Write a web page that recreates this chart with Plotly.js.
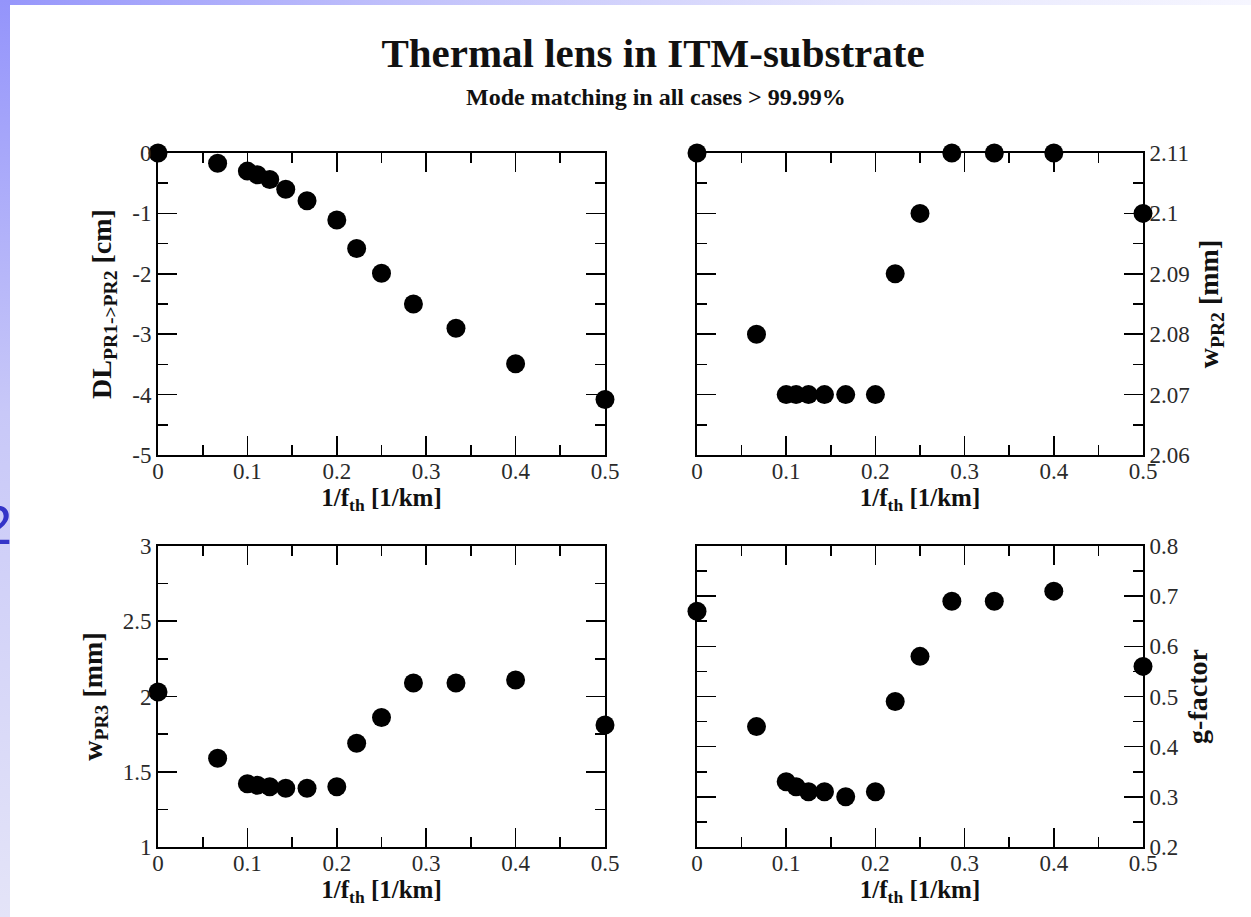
<!DOCTYPE html>
<html>
<head>
<meta charset="utf-8">
<script src="https://cdn.plot.ly/plotly-3.0.1.min.js"></script>
<style>
  html, body { margin:0; padding:0; background:#ffffff; overflow:hidden; }
  #topband { position:absolute; left:0; top:0; width:1251px; height:5px;
    background: linear-gradient(to right, #9696fb 0%, #c4c4fb 35%, #e6e6fd 70%, #f6f6ff 100%); }
  #leftband { position:absolute; left:0; top:0; width:10px; height:917px;
    background: linear-gradient(to bottom, #9494fb 0%, #c8c8f8 45%, #e4e4f8 100%); }
  #slidenum { position:absolute; left:-19px; top:497px; font-family:"Liberation Sans", sans-serif;
    font-size:56px; line-height:56px; color:#3434c8; }
  #chart { position:absolute; left:0; top:0; width:1251px; height:917px; }
</style>
</head>
<body>
<div id="topband"></div>
<div id="leftband"></div>
<div id="slidenum">2</div>
<div id="chart"></div>
<script>
// 1/f_th [1/km]
const invF = [0, 0.0667, 0.1, 0.1111, 0.125, 0.1429, 0.1667, 0.2, 0.2222, 0.25, 0.2857, 0.3333, 0.4, 0.5];
// DL PR1->PR2 [cm]
const dlPR1PR2 = [0, -0.17, -0.30, -0.36, -0.44, -0.60, -0.79, -1.11, -1.58, -1.99, -2.50, -2.90, -3.49, -4.08];
// w PR2 [mm]
const wPR2 = [2.11, 2.08, 2.07, 2.07, 2.07, 2.07, 2.07, 2.07, 2.09, 2.10, 2.11, 2.11, 2.11, 2.10];
// w PR3 [mm]
const wPR3 = [2.03, 1.59, 1.42, 1.41, 1.40, 1.39, 1.39, 1.40, 1.69, 1.86, 2.09, 2.09, 2.11, 1.81];
// g-factor
const gFactor = [0.67, 0.44, 0.33, 0.32, 0.31, 0.31, 0.30, 0.31, 0.49, 0.58, 0.69, 0.69, 0.71, 0.56];

const dlTickVals = [-5, -4, -3, -2, -1, 0];
const dlTickText = ['-5', '-4', '-3', '-2', '-1', '0'];

const W = 1251, H = 917;
const serif = 'Liberation Serif, Times New Roman, serif';
const tickFont = {family: serif, size: 23, color: '#2a2a2a'};
const xTitleFont = {family: serif, size: 25, color: '#111', weight: 'bold'};
const yTitleFont = {family: serif, size: 28, color: '#111', weight: 'bold'};

function xd(a, b) { return [a / W, b / W]; }
function yd(top, bottom) { return [1 - bottom / H, 1 - top / H]; }

function xAxis(domain, anchor) {
  return {
    domain: domain, anchor: anchor, range: [0, 0.5], dtick: 0.1, tick0: 0,
    ticks: 'inside', ticklen: 19, tickwidth: 1.6, tickcolor: '#000',
    minor: {dtick: 0.05, tick0: 0, ticks: 'inside', ticklen: 10, tickwidth: 1.6, tickcolor: '#000', showgrid: false},
    showline: true, linewidth: 2, linecolor: '#000', mirror: 'ticks',
    showgrid: false, zeroline: false, tickfont: tickFont, ticklabelstandoff: -6,
    title: {text: '1/f<sub>th</sub> [1/km]', font: xTitleFont, standoff: 0},
    automargin: false
  };
}
function yAxis(domain, anchor, range, dtick, minorDtick, side, title, standoff) {
  return {
    domain: domain, anchor: anchor, range: range, dtick: dtick, tick0: range[0], side: side,
    ticks: 'inside', ticklen: 19, tickwidth: 1.6, tickcolor: '#000',
    minor: {dtick: minorDtick, tick0: range[0], ticks: 'inside', ticklen: 10, tickwidth: 1.6, tickcolor: '#000', showgrid: false},
    showline: true, linewidth: 2, linecolor: '#000', mirror: 'ticks',
    showgrid: false, zeroline: false, tickfont: tickFont,
    title: {text: title, font: yTitleFont, standoff: standoff},
    automargin: false
  };
}

const marker = {symbol: 'circle', size: 19, color: '#000', line: {width: 0}};
function tr(y, xa, ya) {
  return {x: invF, y: y, xaxis: xa, yaxis: ya, type: 'scatter', mode: 'markers',
          marker: marker, cliponaxis: false, showlegend: false, hoverinfo: 'x+y'};
}

const data = [
  tr(dlPR1PR2, 'x', 'y'),
  tr(wPR2, 'x2', 'y2'),
  tr(wPR3, 'x3', 'y3'),
  tr(gFactor, 'x4', 'y4')
];

const yTop = yd(153, 455), yBot = yd(546, 847);
const xL = xd(158, 605), xR = xd(697, 1143);

const yax1 = yAxis(yTop, 'x', [-5, 0], 1, 0.5, 'left', 'DL<sub>PR1-&gt;PR2</sub> [cm]', 12);
yax1.tickmode = 'array'; yax1.tickvals = dlTickVals; yax1.ticktext = dlTickText;
yax1.minor = {tickvals: [-4.5, -3.5, -2.5, -1.5, -0.5], ticks: 'inside', ticklen: 10, tickwidth: 1.6, tickcolor: '#000', showgrid: false};

const layout = {
  width: W, height: H,
  margin: {l: 0, r: 0, t: 0, b: 0},
  paper_bgcolor: 'rgba(0,0,0,0)',
  plot_bgcolor: '#ffffff',
  showlegend: false,
  title: {text: 'Thermal lens in ITM-substrate', x: 653 / W, xanchor: 'center', xref: 'container',
          y: 1 - 53 / H, yanchor: 'middle', yref: 'container',
          font: {family: serif, size: 41, weight: 'bold', color: '#111'}},
  annotations: [{
    text: 'Mode matching in all cases &gt; 99.99%', xref: 'paper', yref: 'paper',
    x: 656 / W, y: 1 - 97 / H, xanchor: 'center', yanchor: 'middle', showarrow: false,
    font: {family: serif, size: 24, weight: 'bold', color: '#111'}
  }],
  xaxis: xAxis(xL, 'y'),
  yaxis: yax1,
  xaxis2: xAxis(xR, 'y2'),
  yaxis2: yAxis(yTop, 'x2', [2.06, 2.11], 0.01, 0.005, 'right', 'w<sub>PR2</sub> [mm]', 10),
  xaxis3: xAxis(xL, 'y3'),
  yaxis3: yAxis(yBot, 'x3', [1, 3], 0.5, 0.25, 'left', 'w<sub>PR3</sub> [mm]', 12),
  xaxis4: xAxis(xR, 'y4'),
  yaxis4: yAxis(yBot, 'x4', [0.2, 0.8], 0.1, 0.05, 'right', 'g-factor', 10)
};

Plotly.newPlot('chart', data, layout, {displayModeBar: false, staticPlot: true});
</script>
</body>
</html>
